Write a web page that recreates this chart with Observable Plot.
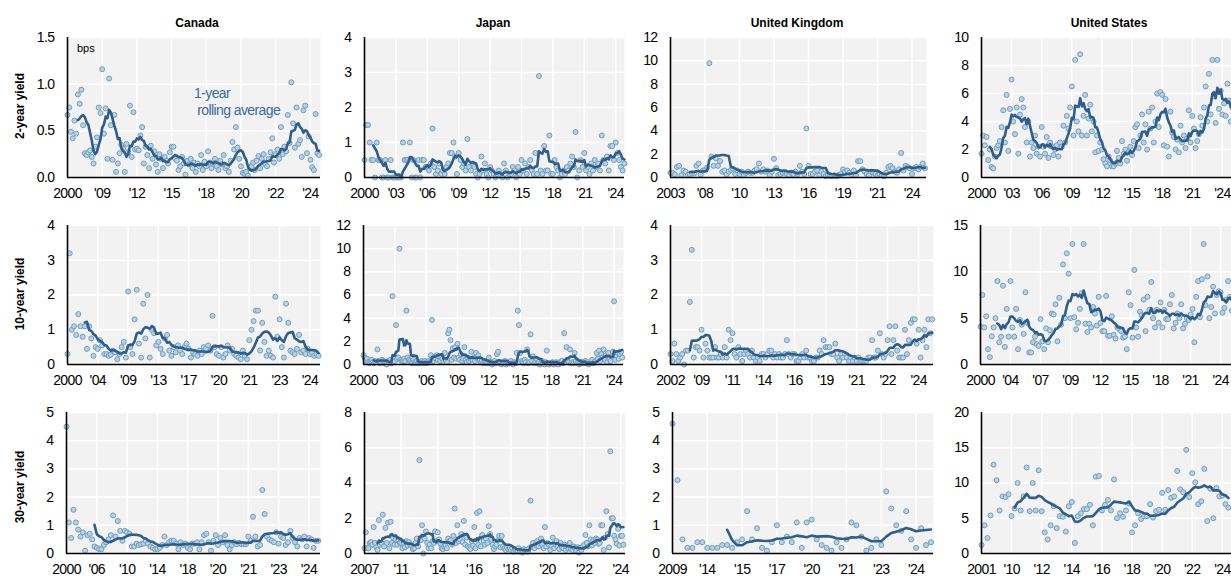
<!DOCTYPE html>
<html><head><meta charset="utf-8">
<script src="https://cdn.jsdelivr.net/npm/d3@7"></script>
<script src="https://cdn.jsdelivr.net/npm/@observablehq/plot@0.6"></script>
<style>
html,body{margin:0;padding:0;background:#fff;overflow:hidden;}
#chart{position:relative;width:1231px;height:581px;overflow:hidden;}
.title{position:absolute;font:bold 12px "Liberation Sans",Arial,sans-serif;color:#000;transform:translateX(-50%);white-space:nowrap;}
.rowlab{position:absolute;font:bold 12px "Liberation Sans",Arial,sans-serif;color:#000;transform:translate(-50%,-50%) rotate(-90deg);white-space:nowrap;}
.note{position:absolute;font:14px "Liberation Sans Narrow","Arial Narrow","Liberation Sans",Arial,sans-serif;letter-spacing:-0.6px;color:#3b6b9b;white-space:nowrap;line-height:17px;}
.bps{position:absolute;font:11px "Liberation Sans",Arial,sans-serif;color:#000;}
</style></head>
<body><div id="chart"></div>
<script>
// ---------- data: spread measures per auction (bps) ----------
const columnTitles = ["Canada", "Japan", "United Kingdom", "United States"];
const rowTitles = ["2-year yield", "10-year yield", "30-year yield"];

const canada2y = [0.67,0.75,0.49,0.42,0.61,0.47,0.89,0.79,0.94,0.56,0.26,0.24,0.27,0.29,0.22,0.15,0.33,0.43,0.75,0.69,
1.16,0.47,0.74,0.2,1.06,0.56,0.19,0.67,0.06,0.15,0.26,0.35,0.31,0.06,0.36,0.27,0.77,0.22,0.7,0.3,
0.31,0.29,0.45,0.54,0.15,0.33,0.24,0.1,0.34,0.2,0.28,0.14,0.06,0.25,0.2,0.1,0.22,0.18,0.15,0.27,
0.33,0.33,0.2,0.18,0.08,0.12,0.22,0.15,0.03,0.18,0.14,0.2,0.1,0.16,0.06,0.15,0.12,0.24,0.08,0.17,
0.12,0.28,0.16,0.1,0.15,0.2,0.12,0.08,0.18,0.14,0.24,0.1,0.12,0.06,0.18,0.38,0.3,0.54,0.32,0.2,
0.12,0.05,0.04,0.06,0.02,0.1,0.12,0.16,0.08,0.18,0.23,0.1,0.2,0.25,0.14,0.12,0.2,0.27,0.42,0.16,
0.25,0.3,0.2,0.54,0.25,0.33,0.28,0.67,0.37,1.02,0.58,0.32,0.75,0.36,0.4,0.22,0.72,0.77,0.26,0.44,
0.19,0.11,0.08,0.68,0.26,0.24];
const canada2yTicks = ["2000","'09","'12","'15","'18","'20","'22","'24"];

const japan2y = [0.5,1.5,1.5,1.0,0.5,0.5,0,1.0,0.5,0.5,0,0,0.5,0,0,0.5,0,0,
0,0,0,0,1.0,0.5,0.5,0.5,1.0,0,0.5,0,0,0.5,0,0.5,0.5,0.3,
0.3,0.2,0.4,1.4,0.3,0.1,0.2,0.4,0.1,0.2,0.1,0.3,0.4,0.7,0.7,1.0,0.6,0.1,
0.7,0.5,0.3,0.4,0.2,1.1,0.3,0.2,0.4,0.3,0.1,0,0.1,0.6,0.2,0.4,0.1,0,
0.3,0.2,0.1,0,0.1,0.2,0.1,0,0.4,0.2,0,0.1,0.1,0.3,0.2,0,0.3,0.1,
0.5,0.2,0.4,0.1,0.3,0.5,0.2,0.1,0.7,0.1,2.9,0.2,0.1,0.9,0.2,0.2,1.2,0.1,
0.1,0.5,0.3,0.2,0,0.1,0.2,0.1,0.3,0.2,0.4,0.6,0.3,1.3,0,0.2,0.5,0.3,
0.7,0.2,0.3,0.1,0.4,0.2,0.5,0.3,0.4,0.2,1.2,0.5,0.4,0.6,0.2,0.9,0.9,0.5,
1.0,0.7,0.5,0.3,0.2,0.4];
const japan2yTicks = ["2000","'03","'06","'09","'12","'15","'18","'21","'24"];

const uk2y = [0.4,0.4,0.25,0.9,1.0,0.2,0.6,0.5,0.2,0.25,0.35,0.35,1.0,1.2,0.25,0.6,
0.65,0.85,9.8,1.8,1.0,1.65,1.0,1.4,0.5,0.6,0.25,0.5,0.65,0.75,0.3,0.6,
0.3,0.5,0.2,0.4,0.5,0.4,0.4,0.6,0.7,1.2,0.5,0.7,0.5,0.6,0.2,0.5,
1.6,0.8,0.2,0.3,0.4,0.5,0.3,0.2,0.4,0.3,0.5,0.3,1.0,0.5,0.3,4.2,
1.0,0.3,0.3,0.5,0.6,0.2,0.5,0.3,0.1,0.2,0.15,0.1,0.2,0.1,0.2,0.3,
0.7,0.5,0.6,0.4,0.3,0.6,0.2,1.4,1.4,0.7,0.5,0.3,0.2,0.5,0.4,0.3,
0.2,0.3,0.2,0.1,0.4,0.9,1.0,0.8,0.5,0.4,0.7,2.1,0.6,1.0,0.9,0.8,
0.3,0.8,0.9,0.7,0.9,1.2,0.8];
const uk2yTicks = ["2003","'08","'10","'13","'16","'19","'21","'24"];

const us2y = [1.7,3.0,2.3,2.9,1.25,2.0,0.75,0.65,1.5,2.1,2.3,2.6,3.6,4.8,2.5,5.9,1.9,4.9,
7.0,4.0,3.1,5.0,1.7,4.5,5.6,5.0,3.6,2.5,4.0,1.5,2.5,2.1,3.0,1.7,2.2,1.5,
3.6,2.2,1.7,2.9,1.4,2.5,2.2,1.6,2.0,2.3,1.5,2.5,2.2,3.7,2.5,4.4,3.5,5.0,
6.5,3.0,8.4,4.0,3.3,8.8,3.0,4.4,5.9,3.0,4.2,5.2,3.3,4.0,1.8,3.0,1.9,2.5,
2.0,1.3,1.0,0.8,1.5,1.2,0.8,0.8,1.0,1.9,1.4,1.0,2.6,1.7,2.0,1.2,1.8,2.2,
1.6,2.6,3.6,3.8,2.1,3.0,4.5,2.5,3.8,2.0,4.7,3.5,5.0,2.5,4.0,6.0,3.6,6.1,
5.9,2.3,5.6,2.2,1.5,4.7,3.2,2.9,2.0,2.7,1.8,3.7,2.5,3.0,2.1,2.8,4.8,2.5,
4.4,3.5,2.1,2.6,3.1,4.3,3.7,5.0,6.5,4.0,7.4,4.5,8.4,5.8,3.9,8.4,4.9,6.2,
4.5,5.3,4.4,6.7,5.5,4.0,5.0,6.0];
const us2yTicks = ["2000","'03","'06","'09","'12","'15","'18","'21","'24"];

const canada10y = [0.3,3.2,1.0,1.1,0.85,1.45,1.1,0.8,1.1,0.45,1.1,0.75,0.25,0.5,
0.45,0.7,0.55,0.3,0.3,0.25,0.28,0.4,0.35,0.15,0.3,0.5,0.65,0.2,
2.1,0.5,0.3,1.3,2.15,0.6,0.2,1.75,0.75,2.0,0.2,1.0,0.9,0.55,
0.65,0.45,0.3,0.75,0.85,0.4,0.25,0.5,0.35,0.55,0.4,0.3,0.5,0.6,
0.45,0.2,0.35,0.3,0.25,0.4,0.3,0.5,0.45,0.55,0.4,1.4,0.5,0.3,
0.25,0.5,0.2,0.3,0.55,0.4,0.45,0.3,0.25,0.2,0.15,0.4,0.25,0.15,
0.7,1.0,1.25,1.55,1.55,0.4,1.2,0.65,0.25,0.4,0.25,0.2,1.95,0.8,
1.3,0.5,0.2,1.75,1.2,0.4,0.35,0.3,0.45,0.85,0.35,0.4,0.3,0.45,
0.3,0.35,0.25,0.3,0.25];
const canada10yTicks = ["2000","'04","'09","'13","'17","'20","'21","'23","'24"];

const japan10y = [0.8,0.6,0.3,0.5,0.2,0.1,0.3,0.4,0.2,0.1,0.3,0.2,1.3,0.3,0.1,0.2,0.4,0.3,0.1,0.2,0,0.3,0.2,0.4,0.1,5.9,0.2,
0.3,3.4,0.5,0.6,10.0,0.4,0.3,0.3,0.5,0.3,4.65,0.6,0.4,0.3,0.2,0.1,0.4,0.2,0.1,0.3,0.1,0.2,0.1,0.3,0.2,0.1,0.3,
0.2,0.1,0.3,0.2,0.8,3.85,0.3,0.6,0.5,0.8,0.4,0.7,0.3,0.6,0.5,0.2,1.0,0.3,0.2,2.7,3.0,2.1,0.4,1.4,0.6,1.5,0.5,
1.8,0.6,0.4,0.9,0.3,0.5,1.5,0.4,0.2,0.6,0.3,0.5,1.1,0.4,0.6,0.3,1.0,0.5,0.8,0.4,0.2,0.3,0.1,0.2,0.3,0.1,0.2,
0.6,0.1,0.2,0,0.1,0.3,0.1,0.9,1.1,0.2,0.1,0,0.2,0.1,0.3,0,0.1,0.2,0.1,0.3,0.1,0,0.2,0.1,1.0,4.65,3.4,
1.0,0.3,0.2,0.1,0.4,0.2,1.3,0.1,0.2,2.6,0.3,0.7,0.1,0.2,0.5,0.1,0.2,0,0.1,0.3,0.1,0,0.2,1.2,0.1,0,0.1,
0.1,0.2,0,0.1,0.2,0.1,0,0.2,0.1,0.3,0.1,2.7,0.2,1.5,0.3,0.2,1.3,0.1,0.2,0.1,1.0,0.3,0.1,0.2,0,0.1,0.2,
0.2,0.1,0.3,0.1,0.2,0,0.1,0.2,0.4,0.1,0.2,0.3,1.0,0.5,1.2,0.3,0.9,0.6,1.3,0.4,0.8,0.2,1.0,0.5,0.3,0.7,1.1,
5.45,0.4,0.8,1.0,0.5,0.9,1.1,0.6];
const japan10yTicks = ["2000","'03","'06","'09","'12","'15","'18","'21","'24"];

const uk10y = [0.3,0.1,0.6,0.3,0.1,0.2,0.3,0,0.4,0.4,1.8,3.3,0.2,0.5,0.5,0.4,
1.0,0.2,0.6,0.4,0.2,0.2,0.2,0.5,0.2,0.2,0.3,0.2,0.5,0.2,1.0,0.7,
0.9,0.3,0.2,0.5,0.3,0.1,0.3,0.4,0.3,0.2,0.4,0.2,0.1,0.2,0.1,0.3,
0.3,0.2,0.3,0.4,0.4,0.2,0.3,0.2,0.3,0.2,0.2,0.3,0.7,0.3,0.2,0.3,
0.3,0.1,0.1,0.2,0.3,0.2,0.4,0.2,0.2,0.1,0.1,0.2,0.2,0.4,0.3,0.7,
0.5,0.5,0.5,0.3,0.3,0.6,0.2,0.1,0.3,0.2,0.3,0.2,0.1,0.2,0.1,0.2,
0.1,0.2,0.1,0.1,0.1,0.1,0.2,0.2,0.7,0.2,0.2,0.4,0.9,0.3,0.2,0.3,
0.7,1.1,0.3,0.7,1.1,0.4,0.2,0.2,0.2,1.0,0.3,0.7,1.2,1.3,1.3,0.6,
1.0,0.2,0.7,1.0,0.5,1.3,0.9,1.3];
const uk10yTicks = ["2002","'09","'11","'14","'16","'19","'21","'22","'24"];

const us10y = [4.1,7.5,4.0,5.2,1.65,0.8,3.05,4.0,5.0,9.0,2.4,3.0,8.5,1.9,6.0,3.0,
9.0,4.0,3.0,6.0,1.65,4.8,4.3,3.3,7.8,4.5,1.3,1.3,2.4,3.0,2.2,2.0,
4.9,2.5,1.65,3.9,2.4,3.7,5.5,5.4,6.5,2.5,7.2,4.3,10.8,5.0,12.0,9.8,
5.0,13.0,5.1,3.8,4.5,6.0,7.7,13.0,4.4,3.5,4.4,4.0,6.2,5.5,4.2,7.3,
4.5,3.6,3.6,7.4,3.1,3.1,5.2,3.2,2.8,4.0,3.8,3.6,2.9,3.0,1.65,7.8,
6.4,2.9,10.2,4.0,3.0,5.7,5.3,7.0,3.6,7.3,5.9,8.9,5.0,4.0,5.9,4.5,
6.7,4.0,5.9,4.9,4.9,6.5,7.5,3.9,4.5,5.5,5.0,6.5,3.9,4.4,5.0,4.8,
5.4,6.0,2.4,7.3,9.0,5.1,9.2,13.0,6.4,9.5,5.0,6.2,8.4,5.5,7.5,7.9,
7.8,5.6,6.1,7.0,9.0,7.3,5.8];
const us10yTicks = ["2000","'04","'07","'09","'12","'15","'18","'21","'24"];

const canada30y = [4.5,1.1,0.55,1.55,1.1,0.85,0.6,0.75,0.1,0.65,0.7,0.5,0.25,
0.2,0.15,0.15,0.3,0.4,0.5,0.65,1.35,0.6,1.15,0.8,0.45,0.8,
0.75,0.7,0.25,0.25,0.35,0.3,0.33,0.35,0.45,0.35,0.25,0.2,0.15,
0.15,0.2,0.3,0.6,0.3,0.4,0.45,0.45,0.35,0.15,0.4,0.3,0.35,
0.2,0.15,0.35,0.35,0.4,0.15,0.4,0.65,0.7,0.4,0.1,0.45,0.65,
0.3,0.55,0.4,0.65,0.3,0.15,0.3,0.4,0.33,0.38,0.33,0.33,0.33,
0.6,0.45,1.3,0.6,0.25,0.3,2.25,1.4,0.6,0.5,0.45,0.4,0.75,
0.35,0.6,0.55,0.3,0.4,0.8,0.55,0.4,0.25,0.55,0.5,0.6,0.25,
0.55,0.5,0.2,0.45,0.45];
const canada30yTicks = ["2000","'06","'10","'14","'18","'20","'21","'23","'24"];

const japan30y = [0.3,1.2,0.3,0.3,0.6,0.65,0.5,1.5,0.6,0.35,0.2,1.9,0.5,0.6,2.2,0.4,1.45,0.6,1.75,0.3,1.8,0.6,0.9,0.5,0.8,0.5,0.75,0.6,
0.6,0.3,0.6,0.35,0.7,0.45,0.65,0.5,0.45,0.25,0.3,0.6,0.85,0.4,5.3,0.75,1.6,0,0.85,1.25,0.6,0.3,0.5,0.3,0.7,0.6,1.25,0.7,
1.2,0.8,0.55,0.3,0.25,0.4,0.45,0.3,0.85,0.7,0.75,0.5,1.0,2.55,0.6,1.6,0.7,0.8,1.1,0.65,1.85,0.5,0.9,0.4,0.35,0.25,0.7,0.45,
1.5,0.3,2.3,0.5,2.4,0.4,1.05,0.7,0.5,0.85,0.6,1.55,1.1,0.8,0.5,0.25,0.4,0.5,0.75,1.0,0.35,1.0,0.4,0.3,0.2,0.35,0.25,0.3,
0.2,0.3,0.1,0.25,0.2,0.15,0.3,0.1,0.2,0.05,0.25,0.15,0.2,0.1,0.3,3.0,0.4,0.6,0.3,0.5,0.7,0.4,0.6,0.85,0.5,0.3,1.5,0.4,
0.6,0.5,0.2,0.45,0.9,0.3,0.5,0.7,0.4,0.25,0.6,0.35,0.3,0.5,0.2,0.4,0.3,0.6,0.25,0.2,0.4,0.3,0.15,0.35,0.05,0.3,0.2,0.4,
0.5,1.05,0.6,0.4,1.6,0.8,0.45,0.75,0.6,0.85,0.8,0.55,0.6,1.6,1.6,0.2,0.9,2.4,1.1,0.35,5.8,2.0,2.0,1.0,0.8,0.55,1.4,0.45,
1.0,1.0,0.5];
const japan30yTicks = ["2007","'11","'14","'16","'18","'20","'22","'24"];

const uk30y = [4.6,2.6,0.5,0.2,0.2,0.4,0.4,
0.2,0.2,0.2,0.3,0.3,0.2,0.4,
0.5,1.5,0.5,0.9,0.2,0.1,0.4,
1.0,0.4,0.6,0.4,1.1,0.2,1.1,
1.2,0.5,0.3,0.2,0.1,0.4,0.2,
0.5,1.1,1.0,0.6,0.1,0.2,0.5,
0.3,2.2,1.6,1.0,0.8,1.5,0.5,
0.2,0.9,0.3,0.4];
const uk30yTicks = ["2009","'14","'15","'17","'20","'21","'23","'24"];

const us30y = [1.2,4.0,2.2,5.4,12.6,10.4,6.1,8.1,8.0,8.4,
5.3,6.4,10.0,6.1,8.1,12.2,6.0,10.0,6.1,11.8,
6.0,3.0,2.0,4.0,6.7,3.6,5.3,5.2,3.1,6.7,
7.3,1.5,5.3,5.7,6.3,6.3,6.9,4.0,10.9,11.0,
6.1,6.9,7.6,6.1,10.5,5.0,5.7,5.2,6.1,7.1,
3.0,4.0,5.7,4.9,5.3,5.3,7.0,5.1,6.0,6.2,
8.6,6.2,9.0,7.9,8.1,11.7,9.1,8.7,14.7,8.0,
11.4,10.1,7.0,7.4,12.0,4.6,9.2,5.0,9.3,8.1,
8.2,7.0,6.5];
const us30yTicks = ["2001","'10","'12","'14","'16","'18","'20","'22","'24"];

// ---------- layout / panel configuration ----------
const NARROW = '"Liberation Sans Narrow","Arial Narrow","Liberation Sans",Arial,sans-serif';
const rows = [{top: 37, bottom: 177}, {top: 225, bottom: 364}, {top: 412, bottom: 553}];
const panels = [
  {values: canada2y,  ticks: canada2yTicks,  per: 20, k: 7,  span: 7.29, yMax: 1.5, yStep: 0.5, fmt: ".1f", row: 0, left: 67,  right: 320},
  {values: japan2y,   ticks: japan2yTicks,   per: 18, k: 6,  span: 8.28, yMax: 4,   yStep: 1,   fmt: "d",   row: 0, left: 364, right: 624},
  {values: uk2y,      ticks: uk2yTicks,      per: 16, k: 10, span: 7.42, yMax: 12,  yStep: 2,   fmt: "d",   row: 0, left: 670, right: 926},
  {values: us2y,      ticks: us2yTicks,      per: 18, k: 6,  span: 8.47, yMax: 10,  yStep: 2,   fmt: "d",   row: 0, left: 981, right: 1236},
  {values: canada10y, ticks: canada10yTicks, per: 14, k: 9,  span: 8.35, yMax: 4,   yStep: 1,   fmt: "d",   row: 1, left: 67,  right: 320},
  {values: japan10y,  ticks: japan10yTicks,  per: 27, k: 10, span: 8.3,  yMax: 12,  yStep: 2,   fmt: "d",   row: 1, left: 363, right: 623},
  {values: uk10y,     ticks: uk10yTicks,     per: 16, k: 11, span: 8.48, yMax: 4,   yStep: 1,   fmt: "d",   row: 1, left: 670, right: 933},
  {values: us10y,     ticks: us10yTicks,     per: 16, k: 10, span: 8.53, yMax: 15,  yStep: 5,   fmt: "d",   row: 1, left: 980, right: 1236},
  {values: canada30y, ticks: canada30yTicks, per: 13, k: 13, span: 8.38, yMax: 5,   yStep: 1,   fmt: "d",   row: 2, left: 66,  right: 320},
  {values: japan30y,  ticks: japan30yTicks,  per: 28, k: 11, span: 7.13, yMax: 8,   yStep: 2,   fmt: "d",   row: 2, left: 364, right: 625},
  {values: uk30y,     ticks: uk30yTicks,     per: 7,  k: 12, span: 7.5,  yMax: 5,   yStep: 1,   fmt: "d",   row: 2, left: 672, right: 933},
  {values: us30y,     ticks: us30yTicks,     per: 10, k: 12, span: 8.47, yMax: 20,  yStep: 5,   fmt: "d",   row: 2, left: 981, right: 1236}
];

const chart = document.getElementById("chart");

function drawPanel(p) {
  const ml = 48, mr = 2, mt = 4, mb = 28;
  const r = rows[p.row];
  const w = p.right - p.left, h = r.bottom - r.top;
  const data = p.values.map((v, i) => ({i, v}));
  const xTicks = p.ticks.map((_, j) => j * p.per);
  const labelOf = new Map(xTicks.map((t, j) => [t, p.ticks[j]]));
  const yTicks = d3.range(0, p.yMax + 1e-9, p.yStep);
  const fy = d3.format(p.fmt);
  const svg = Plot.plot({
    width: w + ml + mr, height: h + mt + mb,
    marginLeft: ml, marginRight: mr, marginTop: mt, marginBottom: mb,
    style: {fontFamily: NARROW, fontSize: "14px", letterSpacing: "-0.6px", color: "#000", background: "transparent", overflow: "visible"},
    x: {domain: [0, p.span * p.per], label: null},
    y: {domain: [0, p.yMax], label: null},
    marks: [
      Plot.frame({fill: "#f2f2f2", stroke: "none"}),
      Plot.gridX(xTicks, {stroke: "#ffffff", strokeOpacity: 1, strokeWidth: 1.5}),
      Plot.gridY(yTicks, {stroke: "#ffffff", strokeOpacity: 1, strokeWidth: 1.5}),
      Plot.axisX(xTicks, {tickSize: 0, tickPadding: 11, fontSize: 14, label: null, tickFormat: d => labelOf.get(d)}),
      Plot.axisY(yTicks, {tickSize: 0, tickPadding: 13, fontSize: 14, label: null, tickFormat: fy}),
      Plot.dot(data, {x: "i", y: "v", r: 2.5, fill: "#b8d2e4", stroke: "#6f9dbe", strokeWidth: 1}),
      Plot.lineY(data, Plot.windowY({k: p.k, anchor: "end", strict: true},
        {x: "i", y: "v", stroke: "#2f5d8c", strokeWidth: 2.6, strokeLinejoin: "round"})),
      Plot.ruleX([0], {stroke: "#000", strokeWidth: 1.6}),
      Plot.ruleY([0], {stroke: "#000", strokeWidth: 1.6})
    ]
  });
  svg.style.position = "absolute";
  svg.style.left = (p.left - ml) + "px";
  svg.style.top = (r.top - mt) + "px";
  chart.appendChild(svg);
}
panels.forEach(drawPanel);

// column titles (centred over each column's plot area)
const titleX = [197, 493, 797, 1109];
columnTitles.forEach((t, j) => {
  const d = document.createElement("div");
  d.className = "title"; d.textContent = t;
  d.style.left = titleX[j] + "px"; d.style.top = "16px";
  chart.appendChild(d);
});
// row labels
const rowY = [106, 294, 487];
rowTitles.forEach((t, j) => {
  const d = document.createElement("div");
  d.className = "rowlab"; d.textContent = t;
  d.style.left = "20px"; d.style.top = rowY[j] + "px";
  chart.appendChild(d);
});
// unit and annotation
const bps = document.createElement("div");
bps.className = "bps"; bps.textContent = "bps";
bps.style.left = "77px"; bps.style.top = "42px";
chart.appendChild(bps);
const note = document.createElement("div");
note.className = "note";
note.innerHTML = "1-year<br>&nbsp;rolling average";
note.style.left = "194px"; note.style.top = "85px";
chart.appendChild(note);
</script>
</body></html>
